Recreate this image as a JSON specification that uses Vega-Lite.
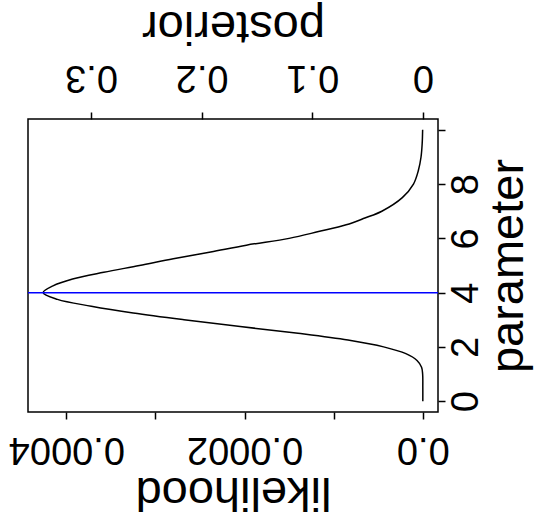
{
  "$schema": "https://vega.github.io/schema/vega-lite/v6.json",
  "width": 410,
  "height": 293,
  "autosize": {"type": "none"},
  "padding": {"left": 28, "top": 119, "right": 111, "bottom": 109},
  "background": "white",
  "config": {
    "view": {"stroke": "black", "strokeWidth": 1.5},
    "font": "Liberation Sans",
    "axis": {
      "grid": false,
      "domain": false,
      "tickColor": "black",
      "tickWidth": 1.5,
      "tickSize": 7,
      "labelColor": "black",
      "titleColor": "black",
      "labelFont": "Liberation Sans",
      "titleFont": "Liberation Sans",
      "labelFontSize": 38,
      "titleFontSize": 47,
      "titleFontWeight": "normal",
      "labelOverlap": false,
      "labelFlush": false
    }
  },
  "data": {
    "values": [
      {"parameter": 0, "likelihood": 0, "posterior": 0},
      {"parameter": 0.5, "likelihood": 0, "posterior": 0},
      {"parameter": 1, "likelihood": 0.0000002, "posterior": 0.00016},
      {"parameter": 1.25, "likelihood": 0.0000014, "posterior": 0.00113},
      {"parameter": 1.5, "likelihood": 0.0000065, "posterior": 0.00524},
      {"parameter": 1.75, "likelihood": 0.000019, "posterior": 0.01531},
      {"parameter": 2, "likelihood": 0.000044, "posterior": 0.03546},
      {"parameter": 2.25, "likelihood": 0.000084, "posterior": 0.06769},
      {"parameter": 2.5, "likelihood": 0.00014, "posterior": 0.11281},
      {"parameter": 2.75, "likelihood": 0.000205, "posterior": 0.16519},
      {"parameter": 3, "likelihood": 0.000268, "posterior": 0.21595},
      {"parameter": 3.25, "likelihood": 0.000325, "posterior": 0.26189},
      {"parameter": 3.5, "likelihood": 0.000372, "posterior": 0.29976},
      {"parameter": 3.75, "likelihood": 0.00041, "posterior": 0.33038},
      {"parameter": 4, "likelihood": 0.000426, "posterior": 0.34327},
      {"parameter": 4.25, "likelihood": 0.000415, "posterior": 0.33441},
      {"parameter": 4.5, "likelihood": 0.000393, "posterior": 0.31668},
      {"parameter": 4.75, "likelihood": 0.000358, "posterior": 0.28848},
      {"parameter": 5, "likelihood": 0.000318, "posterior": 0.25624},
      {"parameter": 5.25, "likelihood": 0.00028, "posterior": 0.22562},
      {"parameter": 5.5, "likelihood": 0.000238, "posterior": 0.19178},
      {"parameter": 5.75, "likelihood": 0.000198, "posterior": 0.15955},
      {"parameter": 6, "likelihood": 0.00015, "posterior": 0.12087},
      {"parameter": 6.25, "likelihood": 0.000117, "posterior": 0.09428},
      {"parameter": 6.5, "likelihood": 0.000086, "posterior": 0.0693},
      {"parameter": 6.75, "likelihood": 0.000065, "posterior": 0.05238},
      {"parameter": 7, "likelihood": 0.000046, "posterior": 0.03707},
      {"parameter": 7.5, "likelihood": 0.000023, "posterior": 0.01853},
      {"parameter": 8, "likelihood": 0.0000105, "posterior": 0.00846},
      {"parameter": 8.5, "likelihood": 0.000005, "posterior": 0.00403},
      {"parameter": 9, "likelihood": 0.000002, "posterior": 0.00161},
      {"parameter": 9.5, "likelihood": 0.0000007, "posterior": 0.00056},
      {"parameter": 10, "likelihood": 0.0000002, "posterior": 0.00016}
    ]
  },
  "layer": [
    {
      "mark": {"type": "line", "color": "black", "strokeWidth": 1.5, "interpolate": "catmull-rom"},
      "encoding": {
        "y": {
          "field": "parameter",
          "type": "quantitative",
          "scale": {"domain": [-0.4, 10.4], "nice": false, "zero": false},
          "axis": {
            "orient": "right",
            "values": [0, 2, 4, 6, 8, 10],
            "labelExpr": "datum.value == 10 ? '' : datum.label",
            "labelAngle": 270,
            "labelAlign": "center",
            "labelBaseline": "top",
            "labelPadding": 2,
            "title": "parameter",
            "titleAngle": 270,
            "titleBaseline": "top",
            "titlePadding": 0
          }
        },
        "x": {
          "field": "likelihood",
          "type": "quantitative",
          "scale": {"domain": [-0.00001704, 0.00044304], "nice": false, "zero": false, "reverse": true},
          "axis": {
            "orient": "bottom",
            "values": [0, 0.0001, 0.0002, 0.0003, 0.0004],
            "labelExpr": "datum.value < 0.00005 ? '0.0' : (abs(datum.value - 0.0002) < 0.00001 ? '0.0002' : (abs(datum.value - 0.0004) < 0.00001 ? '0.0004' : ''))",
            "labelAngle": 180,
            "labelAlign": "center",
            "labelBaseline": "bottom",
            "labelPadding": 10,
            "title": "likelihood",
            "titleAngle": 180,
            "titleBaseline": "bottom",
            "titlePadding": 0
          }
        },
        "order": {"field": "parameter", "type": "quantitative"}
      }
    },
    {
      "mark": {"type": "line", "color": "black", "strokeWidth": 1.5, "opacity": 0},
      "encoding": {
        "y": {"field": "parameter", "type": "quantitative"},
        "x": {
          "field": "posterior",
          "type": "quantitative",
          "scale": {"domain": [-0.013732, 0.357032], "nice": false, "zero": false, "reverse": true},
          "axis": {
            "orient": "top",
            "values": [0, 0.1, 0.2, 0.3],
            "labelExpr": "datum.value < 0.05 ? '0' : format(datum.value, '.1f')",
            "labelAngle": 180,
            "labelAlign": "center",
            "labelBaseline": "top",
            "labelPadding": 17,
            "title": "posterior",
            "titleAngle": 180,
            "titleBaseline": "top",
            "titlePadding": 9
          }
        },
        "order": {"field": "parameter", "type": "quantitative"}
      }
    },
    {
      "data": {"values": [{"parameter": 4}]},
      "mark": {"type": "rule", "color": "#0000ff", "strokeWidth": 1.5},
      "encoding": {
        "y": {"field": "parameter", "type": "quantitative"}
      }
    }
  ],
  "resolve": {"scale": {"x": "independent"}, "axis": {"x": "independent"}}
}
